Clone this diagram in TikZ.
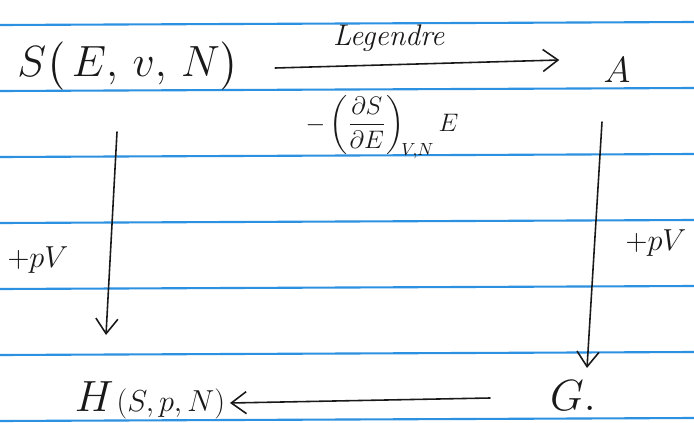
\documentclass[tikz,border=0pt]{standalone}
\usepackage{amsmath}
\usepackage{amssymb}
\usetikzlibrary{arrows.meta}

\definecolor{ruleblue}{RGB}{45,145,225}
\definecolor{ink}{RGB}{25,25,25}

\begin{document}
\begin{tikzpicture}[
    x=0.02cm, y=-0.02cm,
    >={Straight Barb[length=3mm,width=4.4mm,line width=0.9pt]},
    potential/.style={
        inner sep=0pt,
        text=ink
    },
    transform/.style={
        ->,
        draw=ink,
        line width=0.9pt,
        line cap=round
    },
    paperline/.style={
        draw=ruleblue,
        line width=1.2pt
    }
]

% paper
\useasboundingbox[fill=white] (0,0) rectangle (694,423);
\foreach \k in {0,...,6}
    \draw[paperline] (0,{25+66*\k}) -- (694,{22+66*\k});

% potentials
\node[potential] (S) at (128,66) {\fontsize{23}{26}\selectfont $S\bigl(\,E,\,v,\,N\bigr)$};
\node[potential] (A) at (617,70) {\fontsize{22}{26}\selectfont $A$};
\node[potential] (H) at (150,400) {{\fontsize{26}{30}\selectfont $H$}\,{\fontsize{17}{20}\selectfont $(S,p,N)$}};
\node[potential] (G) at (573,396) {\fontsize{24}{28}\selectfont $G.$};

% transforms
\draw[transform] ([shift={(36,2)}]S.east) -- ([shift={(-44,-10)}]A.west)
    node[pos=0.4, above=4pt, text=ink] {\fontsize{17}{20}\selectfont\itshape Legendre};
\draw[transform] ([shift={(-11,66)}]S.center) -- ([shift={(-44,-65)}]H.center);
\draw[transform] ([shift={(-15,52)}]A.center) -- ([shift={(14,-28)}]G.center);
\draw[transform] ([shift={(-83,2)}]G.center) -- ([shift={(80,3)}]H.center);

% labels
\node[potential] (dSdE) at (382,127) {\fontsize{14}{17}\selectfont $-\left(\dfrac{\partial S}{\partial E}\right)_{\!V,N} E$};
\node[potential] (pVleft) at (38,260) {\fontsize{17}{20}\selectfont $+pV$};
\node[potential] (pVright) at (656,243) {\fontsize{17}{20}\selectfont $+pV$};

\end{tikzpicture}
\end{document}
